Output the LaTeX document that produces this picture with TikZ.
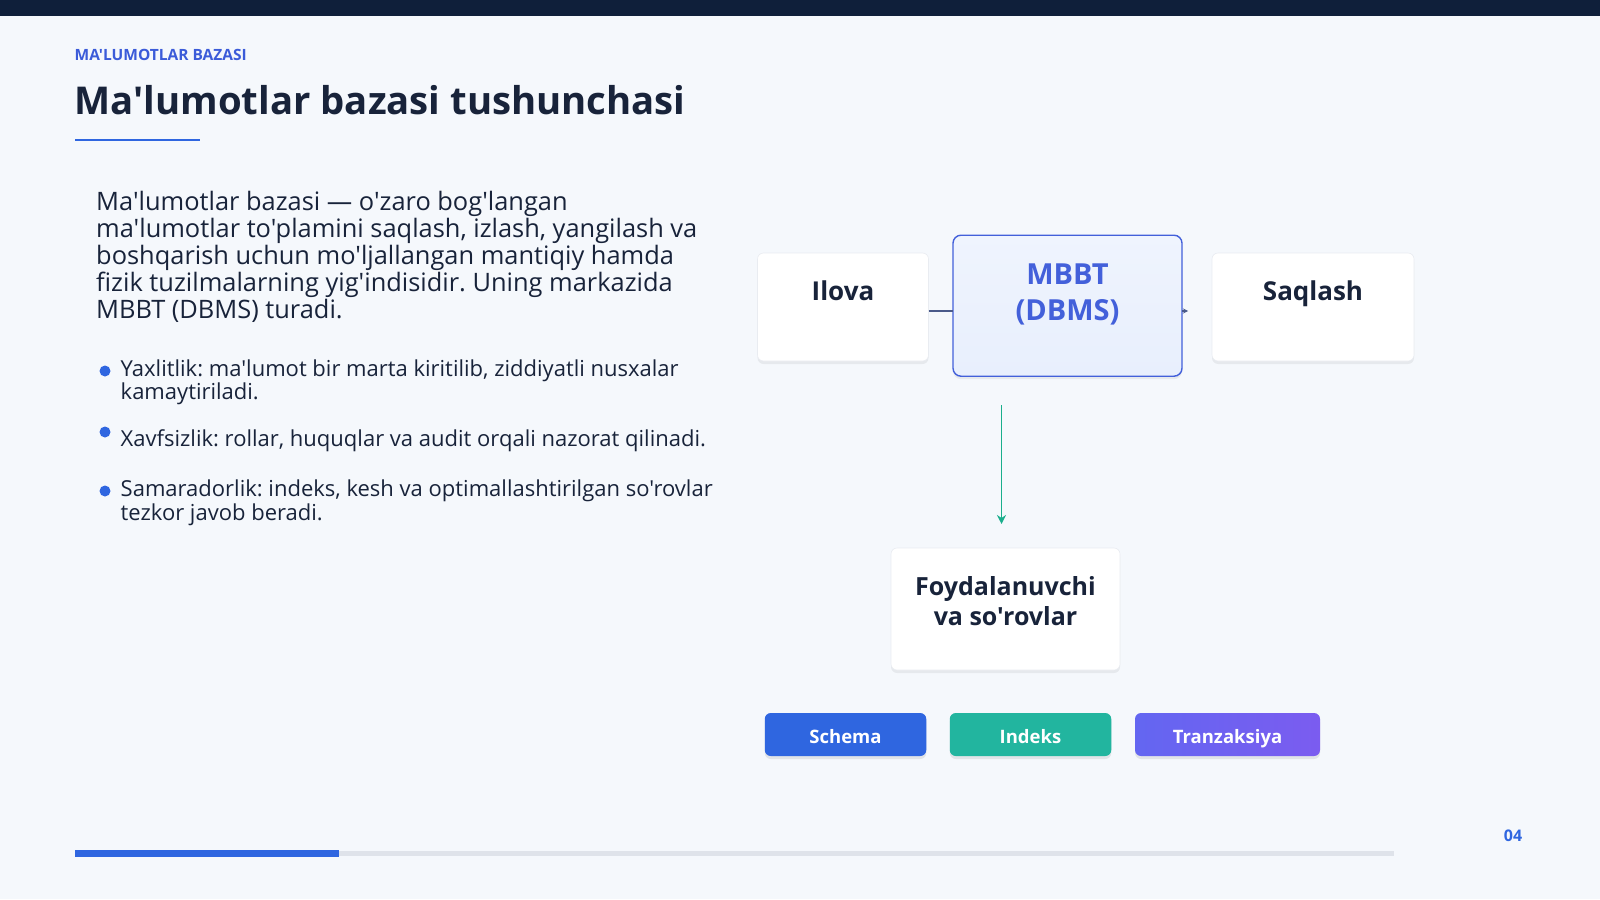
\documentclass[tikz,border=0pt]{standalone}
\usepackage{fontspec}
\IfFontExistsTF{Noto Sans Bold}{%
  \setmainfont{Noto Sans}[BoldFont={Noto Sans Bold},Ligatures=TeXOff]}{%
  \IfFontExistsTF{NotoSans-Bold.ttf}{%
    \setmainfont{Noto Sans}[BoldFont={NotoSans-Bold.ttf},Ligatures=TeXOff]}{%
    \setmainfont{Open Sans}[Ligatures=TeXOff]}}
\frenchspacing
\usetikzlibrary{shadows,arrows.meta}
\definecolor{navy}{HTML}{0F1F3A}
\definecolor{bgc}{HTML}{F5F8FC}
\definecolor{ink}{HTML}{18233A}
\definecolor{kick}{HTML}{3B5BD9}
\definecolor{accent}{HTML}{2F66E0}
\definecolor{mbfill}{HTML}{E8EFFD}
\definecolor{mbline}{HTML}{4360DA}
\definecolor{tealc}{HTML}{1AAE8C}
\definecolor{grayb}{HTML}{DFE3EA}
\definecolor{indc}{HTML}{22B59F}
\definecolor{tranl}{HTML}{6366F1}
\definecolor{tranr}{HTML}{7B5CF0}
\definecolor{connc}{HTML}{4A5A8A}
\definecolor{boxline}{HTML}{E9ECF1}
\tikzset{
  card/.style={rounded corners=6pt, fill=white, draw=boxline, line width=0.6pt, inner sep=0pt, outer sep=0pt,
    drop shadow={shadow xshift=0pt, shadow yshift=-3pt, opacity=0.06, fill=black}},
  mbcard/.style={rounded corners=8pt, top color=mbfill!70!white, bottom color=mbfill, draw=mbline, line width=1.4pt, inner sep=0pt, outer sep=0pt,
    drop shadow={shadow xshift=0pt, shadow yshift=-3pt, opacity=0.06, fill=black}},
  cardtext/.style={font=\fontsize{26}{30}\selectfont\bfseries, text=ink, inner sep=0pt, align=center, anchor=base},
  pill/.style={rounded corners=6pt, inner sep=0pt, outer sep=0pt,
    minimum height=43pt, drop shadow={shadow xshift=0pt, shadow yshift=-3pt, opacity=0.08, fill=black}},
  pilltext/.style={text=white, font=\fontsize{18.5}{22}\selectfont\bfseries, inner sep=0pt, anchor=base},
  conn/.style={draw=connc, line width=1.2pt},
  tealarrow/.style={draw=tealc, line width=1.7pt, -{Stealth[length=9pt,width=9pt]}},
  para/.style={font=\fontsize{25.4}{27}\selectfont, text=ink, inner sep=0pt, align=left},
  bul/.style={font=\fontsize{22}{23.5}\selectfont, text=ink, inner sep=0pt, align=left},
  dot/.style={circle, fill=accent, inner sep=0pt, minimum size=11pt}
}
\begin{document}
\begin{tikzpicture}[x=1pt,y=-1pt]
\useasboundingbox (0,0) rectangle (1600,899);
\fill[bgc] (0,0) rectangle (1600,899);
\fill[navy] (0,0) rectangle (1600,16);

% header
\node[anchor=base west, inner sep=0pt, font=\fontsize{15.5}{18}\selectfont\bfseries, text=kick] (kicker) at (74.5,60) {MA'LUMOTLAR BAZASI};
\node[anchor=base west, inner sep=0pt, font=\fontsize{38.3}{44}\selectfont\bfseries, text=ink] (title) at (74.5,114) {Ma'lumotlar bazasi tushunchasi};
\fill[accent] (74.5,139) rectangle (200,141);

% paragraph (base = last line)
\node[para, anchor=base west] (para) at (96,318) {Ma'lumotlar bazasi — o'zaro bog'langan\\ma'lumotlar to'plamini saqlash, izlash, yangilash va\\boshqarish uchun mo'ljallangan mantiqiy hamda\\fizik tuzilmalarning yig'indisidir. Uning markazida\\MBBT (DBMS) turadi.};

% bullets
\node[dot] (d1) at (105,371) {};
\node[bul, anchor=base west] (b1) at (120.5,399.5) {Yaxlitlik: ma'lumot bir marta kiritilib, ziddiyatli nusxalar\\kamaytiriladi.};
\node[dot] (d2) at (105,432) {};
\node[bul, anchor=base west] (b2) at (120.5,446.5) {Xavfsizlik: rollar, huquqlar va audit orqali nazorat qilinadi.};
\node[dot] (d3) at (105,491) {};
\node[bul, anchor=base west] (b3) at (120.5,520) {Samaradorlik: indeks, kesh va optimallashtirilgan so'rovlar\\tezkor javob beradi.};

% diagram boxes
\node[card, minimum width=171pt, minimum height=108pt] (ilova) at (843,307) {};
\node[cardtext] (ilovat) at (843,300.4) {Ilova};
\node[mbcard, minimum width=229pt, minimum height=141pt] (mbbt) at (1067.5,305.7) {};
\node[cardtext, text=mbline, font=\fontsize{29}{35.5}\selectfont\bfseries] (mbbtt) at (1067.5,320.4) {MBBT\\(DBMS)};
\node[card, minimum width=202pt, minimum height=108pt] (saq) at (1313,307) {};
\node[cardtext] (saqt) at (1313,300.4) {Saqlash};
\node[card, minimum width=229pt, minimum height=122pt] (foyda) at (1005.5,609) {};
\node[cardtext, font=\fontsize{25}{29.6}\selectfont\bfseries] (foydat) at (1005.5,625) {Foydalanuvchi\\va so'rovlar};

% connectors
\draw[conn] ([yshift=-4pt]ilova.east) -- ([yshift=-4pt]ilova.east -| mbbt.west);
\coordinate (tipstart) at ([yshift=-4pt]mbbt.east |- ilova.east);
\coordinate (tipend) at ([xshift=6pt]tipstart);
\draw[conn, -{Stealth[length=5pt,width=5pt]}] (tipstart) -- (tipend);
\coordinate (vstart) at (1001.5,405);
\draw[tealarrow, shorten >=24pt] (vstart) -- (vstart |- foyda.north);

% pills
\node[pill, fill=accent, minimum width=161.5pt] (schema) at (845.5,734.5) {};
\node[pilltext] (schemat) at (845.5,743) {Schema};
\node[pill, fill=indc, minimum width=161.5pt] (indeks) at (1030.5,734.5) {};
\node[pilltext] (indekst) at (1030.5,743) {Indeks};
\node[pill, left color=tranl, right color=tranr, minimum width=185pt] (tranz) at (1227.5,734.5) {};
\node[pilltext] (tranzt) at (1227.5,743) {Tranzaksiya};

% progress
\fill[grayb] (339,850.5) rectangle (1394,855.5);
\fill[accent] (74.5,850) rectangle (339,856.5);
\node[anchor=center, inner sep=0pt, font=\fontsize{16}{18}\selectfont\bfseries, text=accent] (pnum) at (1513,836) {04};
\end{tikzpicture}
\end{document}
